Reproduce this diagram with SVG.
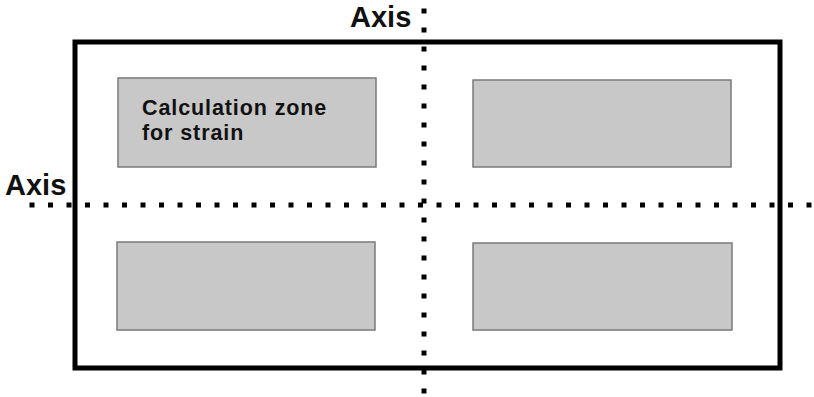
<svg xmlns="http://www.w3.org/2000/svg" width="814" height="397" viewBox="0 0 814 397">
<style>
.zone{fill:#c8c8c8;stroke:#7a7a7a;stroke-width:1.5}
.axis{fill:none;stroke:#000;stroke-width:5}
.lbl{font-family:"Liberation Sans",Arial,sans-serif;font-weight:bold;fill:#111}
</style>
<rect x="0" y="0" width="814" height="397" fill="#fff"/>
<g id="frame"><rect x="75" y="42" width="705" height="326" fill="none" stroke="#000" stroke-width="5"/></g>
<g id="zone-tl"><rect class="zone" x="118" y="78" width="258" height="89"/>
<text class="lbl" font-size="21.5" letter-spacing="0.9"><tspan x="142" y="114.5">Calculation zone</tspan><tspan x="142" y="139.5">for strain</tspan></text></g>
<g id="zone-tr"><rect class="zone" x="473" y="80" width="258" height="87"/></g>
<g id="zone-bl"><rect class="zone" x="117" y="242" width="258" height="88"/></g>
<g id="zone-br"><rect class="zone" x="473" y="243" width="259" height="87"/></g>
<g id="connectors">
<line class="axis" x1="424" y1="8.5" x2="424" y2="395" stroke-dasharray="5 14"/>
<line class="axis" x1="29.5" y1="205" x2="814" y2="205" stroke-dasharray="5 13.5"/>
</g>
<g id="axis-v-label"><text class="lbl" x="350" y="27" font-size="29">Axis</text></g>
<g id="axis-h-label"><text class="lbl" x="5" y="195" font-size="29">Axis</text></g>
</svg>
